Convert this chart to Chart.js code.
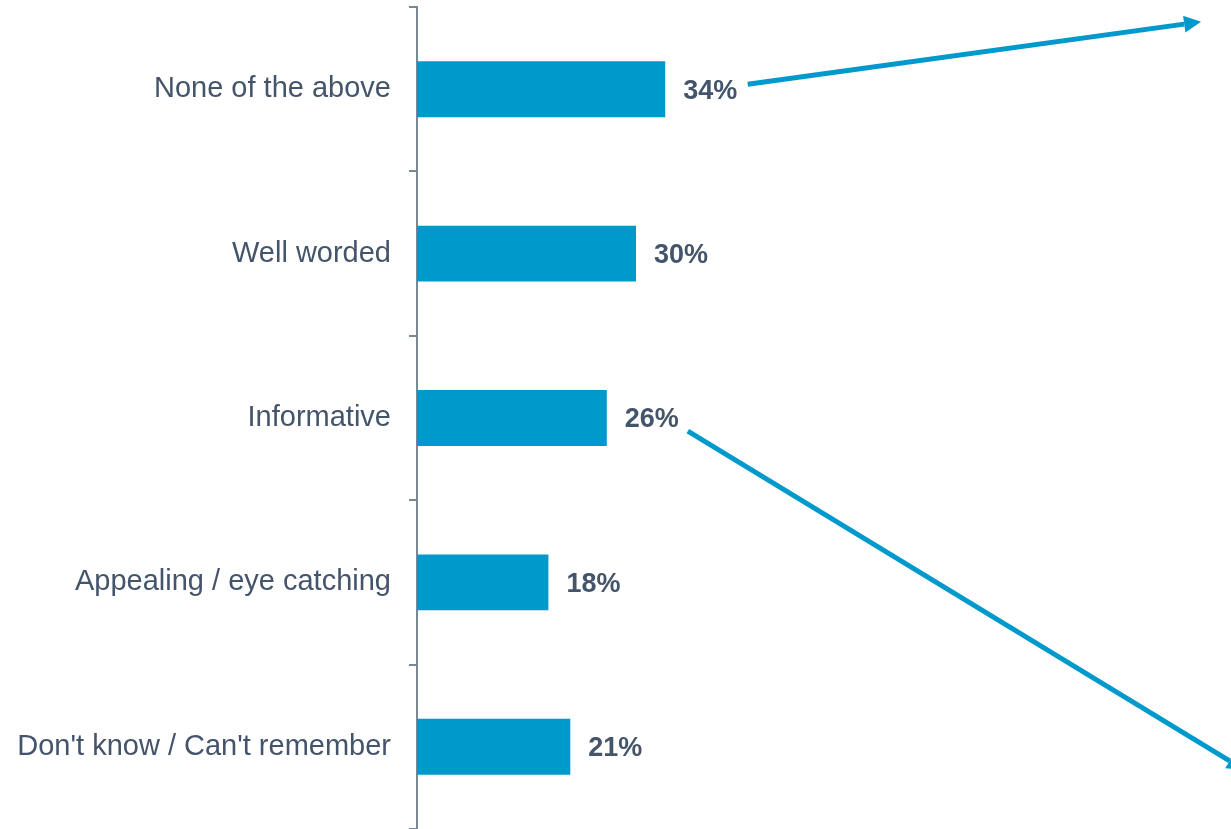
<!DOCTYPE html>
<html>
<head>
<meta charset="utf-8">
<script src="https://cdn.jsdelivr.net/npm/chart.js@4"></script>
<style>
  html, body { margin: 0; padding: 0; background: #fff; }
  #wrap { width: 1231px; height: 829px; }
</style>
</head>
<body>
<div id="wrap"><canvas id="chart"></canvas></div>
<script>
// Answers and their shares
const categories = ['None of the above', 'Well worded', 'Informative', 'Appealing / eye catching', "Don't know / Can't remember"];
const shares = [34, 30, 26, 18, 21];

// Callout arrows, in axis units: [x value, category index]
const arrowFrom = [[45.3, -0.03], [37.1, 2.08]];
const arrowTo = [[107.4, -0.41], [113.3, 4.14]];

const barColor = '#0099CC';
const textColor = '#44546A';
const axisColor = '#7A8896';

// Percent labels to the right of each bar
const valueLabels = {
    id: 'valueLabels',
    afterDatasetsDraw(chart) {
        const ctx = chart.ctx;
        const meta = chart.getDatasetMeta(0);
        ctx.save();
        ctx.font = 'bold 27px "Liberation Sans", Arial, sans-serif';
        ctx.fillStyle = textColor;
        ctx.textBaseline = 'middle';
        ctx.textAlign = 'left';
        meta.data.forEach((bar, i) => {
            ctx.fillText(shares[i] + '%', bar.x + 18, bar.y + 2);
        });
        ctx.restore();
    }
};

// Blue arrows pointing out of the chart
const arrows = {
    id: 'arrows',
    afterDraw(chart) {
        const ctx = chart.ctx;
        const xs = chart.scales.x;
        const ys = chart.scales.y;
        ctx.save();
        ctx.strokeStyle = barColor;
        ctx.fillStyle = barColor;
        ctx.lineWidth = 5;
        arrowFrom.forEach((from, i) => {
            const x1 = xs.getPixelForValue(from[0]);
            const y1 = ys.getPixelForValue(from[1]);
            const x2 = xs.getPixelForValue(arrowTo[i][0]);
            const y2 = ys.getPixelForValue(arrowTo[i][1]);
            const a = Math.atan2(y2 - y1, x2 - x1);
            const head = 17;
            const bx = x2 - head * Math.cos(a);
            const by = y2 - head * Math.sin(a);
            ctx.beginPath();
            ctx.moveTo(x1, y1);
            ctx.lineTo(bx, by);
            ctx.stroke();
            ctx.beginPath();
            ctx.moveTo(x2, y2);
            ctx.lineTo(bx + 8.5 * Math.sin(a), by - 8.5 * Math.cos(a));
            ctx.lineTo(bx - 8.5 * Math.sin(a), by + 8.5 * Math.cos(a));
            ctx.closePath();
            ctx.fill();
        });
        ctx.restore();
    }
};

new Chart(document.getElementById('chart'), {
    type: 'bar',
    data: {
        labels: categories,
        datasets: [{
            data: shares,
            backgroundColor: barColor,
            borderWidth: 0,
            categoryPercentage: 1,
            barPercentage: 0.34
        }]
    },
    options: {
        indexAxis: 'y',
        responsive: true,
        maintainAspectRatio: false,
        animation: false,
        layout: { padding: { top: 7, right: 0, bottom: 0, left: 0 } },
        plugins: {
            legend: { display: false },
            tooltip: { enabled: false }
        },
        scales: {
            x: {
                display: false,
                min: 0,
                max: 111.5
            },
            y: {
                grid: {
                    drawOnChartArea: false,
                    drawTicks: true,
                    tickLength: 8,
                    color: axisColor,
                    lineWidth: 2
                },
                border: { display: true, color: axisColor, width: 2 },
                ticks: {
                    padding: 18,
                    color: textColor,
                    font: { family: '"Liberation Sans", Arial, sans-serif', size: 29 }
                },
                afterFit(scale) {
                    scale.width = 417;
                    scale.paddingTop = 0;
                    scale.paddingBottom = 0;
                }
            }
        }
    },
    plugins: [valueLabels, arrows]
});
</script>
</body>
</html>
